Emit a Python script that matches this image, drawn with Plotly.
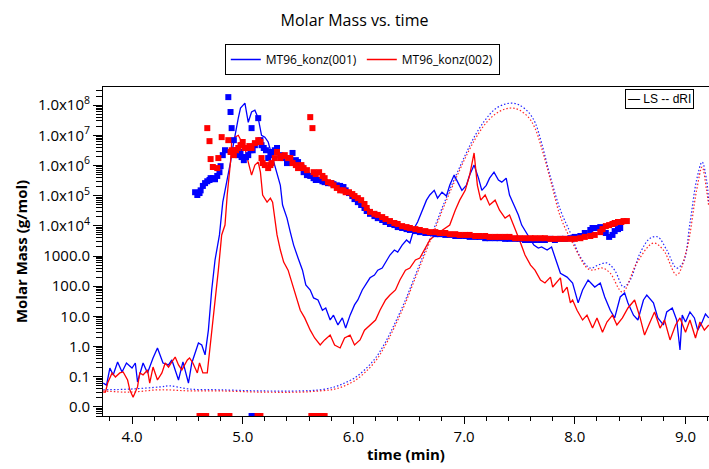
import plotly.graph_objects as go

# ---------------- data (time in min, values in g/mol display units) ----------------
t_ls_001 = [3.74,3.77,3.80,3.83,3.87,3.91,3.95,4.00,4.03,4.05,4.10,4.14,4.19,4.23,4.28,4.33,4.36,4.39,4.42,4.46,
            4.51,4.54,4.57,4.60,4.63,4.66,4.69,4.72,4.75,4.78,4.79,4.82,4.86,4.89,4.91,4.93,4.96,4.98,5.00,5.02,
            5.05,5.08,5.11,5.14,5.17,5.20,5.23,5.27,5.31,5.34,5.36,5.40,5.43,5.46,5.50,5.54,5.57,5.61,5.64,5.68,
            5.72,5.75,5.79,5.82,5.86,5.90,5.93,5.97,6.01,6.04,6.08,6.11,6.15,6.19,6.22,6.26,6.29,6.33,6.37,6.40,
            6.44,6.48,6.51,6.55,6.58,6.62,6.66,6.69,6.73,6.76,6.80,6.84,6.87,6.91,6.94,6.98,7.02,7.05,7.09,7.13,
            7.16,7.20,7.23,7.27,7.31,7.34,7.38,7.41,7.45,7.49,7.52,7.56,7.60,7.63,7.67,7.70,7.75,7.79,7.82,7.87,
            7.93,7.98,8.03,8.07,8.12,8.18,8.23,8.27,8.32,8.36,8.41,8.45,8.48,8.53,8.57,8.62,8.65,8.71,8.75,8.80,
            8.83,8.88,8.92,8.95,8.97,9.00,9.04,9.08,9.11,9.15,9.18,9.21]
ls_001 = [0.062,0.053,0.195,0.115,0.31,0.144,0.286,0.195,0.286,0.067,0.286,0.134,0.42,0.90,0.286,0.246,0.36,0.168,0.078,0.31,
          0.062,0.286,0.61,1.32,1.13,0.53,3.5,75,740,3400,5000,6.1e4,3.3e5,1.3e6,3.8e6,1.0e7,3.7e7,8.0e7,1.0e8,1.16e8,
          2.7e7,5.9e7,6.8e7,3.7e7,1.0e7,8.7e6,6.0e6,1.76e6,6.0e5,2.2e5,4.9e4,1.8e4,6200,2300,860,340,110,75,41,35,
          16,19,7.6,11,5.2,8.9,4.1,11,24,35,75,110,190,235,340,400,630,1080,1580,1360,
          2300,3400,2700,8500,1.34e4,3.3e4,7.1e4,1.05e5,1.5e5,8.3e4,1.3e5,9.7e4,2.2e5,4.8e5,2.8e5,1.5e5,2.2e5,4.8e5,1.03e6,3.8e5,
          1.5e5,2.2e5,3.8e5,6.0e5,3.3e5,2.8e5,3.8e5,1.05e5,4.9e4,2.3e4,1.06e4,6200,3400,2300,1840,2000,1580,2000,930,270,
          200,128,28,75,160,94,128,44,16,8.9,44,60,28,11,7.6,35,51,28,8.9,5.2,
          14,19,7.6,0.77,11,6.5,14,8.9,3.5,6.5,12,8.9]

t_ls_002 = [3.74,3.76,3.78,3.82,3.85,3.89,3.92,3.96,3.98,4.01,4.05,4.07,4.10,4.14,4.16,4.19,4.23,4.27,4.30,4.33,
            4.36,4.39,4.42,4.45,4.50,4.52,4.55,4.59,4.61,4.64,4.68,4.70,4.72,4.75,4.78,4.81,4.84,4.86,4.89,4.90,
            4.93,4.96,4.99,5.02,5.05,5.08,5.11,5.14,5.16,5.18,5.22,5.25,5.27,5.29,5.31,5.34,5.37,5.41,5.45,5.48,
            5.52,5.56,5.61,5.65,5.70,5.74,5.79,5.83,5.88,5.92,5.97,6.01,6.06,6.10,6.15,6.20,6.24,6.29,6.33,6.38,
            6.42,6.47,6.51,6.56,6.60,6.65,6.69,6.74,6.78,6.83,6.87,6.92,6.96,7.01,7.05,7.09,7.12,7.15,7.19,7.23,
            7.28,7.32,7.37,7.41,7.46,7.50,7.55,7.60,7.64,7.69,7.73,7.78,7.80,7.87,7.89,7.93,7.96,7.98,8.02,8.07,
            8.11,8.16,8.20,8.25,8.29,8.34,8.38,8.43,8.48,8.54,8.59,8.63,8.68,8.72,8.77,8.81,8.86,8.91,8.95,9.00,
            9.04,9.09,9.13,9.17,9.21]
ls_002 = [0.031,0.031,0.062,0.134,0.098,0.134,0.144,0.078,0.037,0.021,0.046,0.134,0.115,0.168,0.062,0.21,0.078,0.134,0.286,0.21,
          0.31,0.45,0.246,0.168,0.36,0.42,0.286,0.134,0.286,0.134,0.134,0.61,3.5,35,340,5000,1.06e4,1.05e5,1.3e6,6.0e6,
          8.7e6,1.0e7,6.0e6,3.8e6,1.3e6,4.8e5,1.03e6,1.3e6,6.0e5,1.05e5,6.1e4,8.3e4,6.1e4,1.8e4,5000,1580,630,340,110,51,
          16,8.9,3.5,1.93,1.13,1.66,2.4,1.13,0.90,1.93,2.4,1.13,1.66,3.5,5.2,7.6,16,35,51,75,
          160,340,400,740,860,1840,3400,5000,6200,8500,1.06e4,3.3e4,7.1e4,1.5e5,4.8e5,2.6e6,2.2e5,7.1e4,1.05e5,4.9e4,
          7.1e4,3.3e4,1.8e4,2.3e4,8500,3400,1080,500,340,160,128,200,94,190,60,94,28,35,16,7.6,
          11,4.1,8.9,3.0,6.5,11,5.2,8.9,19,35,8.9,2.4,6.5,14,4.1,7.6,1.66,5.2,8.9,3.0,
          7.6,1.93,6.5,3.5,5.2]

t_dri_001 = [3.74,3.98,4.25,4.34,4.52,4.79,5.16,5.52,5.70,5.83,5.92,6.01,6.10,6.20,6.29,6.38,6.47,6.56,6.65,6.74,
             6.83,6.92,7.01,7.10,7.19,7.28,7.37,7.44,7.50,7.58,7.64,7.70,7.78,7.87,7.96,8.05,8.14,8.21,8.29,8.36,
             8.44,8.50,8.59,8.68,8.75,8.83,8.92,8.98,9.04,9.10,9.15,9.19,9.21]
dri_001 = [0.037,0.039,0.046,0.050,0.039,0.037,0.034,0.034,0.037,0.046,0.062,0.091,0.168,0.42,1.42,6.5,35,235,1580,1.06e4,
           7.1e4,4.1e5,2.2e6,1.0e7,3.2e7,7.4e7,1.08e8,1.16e8,1.0e8,5.9e7,2.7e7,5.5e6,4.1e5,3.3e4,5800,930,400,500,590,340,
           94,160,1260,3900,4300,1580,400,630,1.24e4,3.3e5,1.3e6,3.3e5,5.7e4]

t_dri_002 = [3.74,3.98,4.25,4.52,4.79,5.16,5.52,5.70,5.83,5.92,6.01,6.10,6.20,6.29,6.38,6.47,6.56,6.65,6.74,6.83,
             6.92,7.01,7.10,7.19,7.28,7.37,7.44,7.50,7.58,7.64,7.70,7.78,7.87,7.98,8.11,8.16,8.25,8.32,8.43,8.56,
             8.71,8.80,8.92,9.01,9.10,9.15,9.19,9.21]
dri_002 = [0.034,0.031,0.037,0.034,0.034,0.031,0.031,0.034,0.039,0.050,0.073,0.134,0.33,1.13,5.2,28,190,1260,8500,5.7e4,
           3.3e5,1.76e6,7.5e6,2.35e7,5.0e7,7.4e7,8.0e7,6.8e7,4.0e7,1.73e7,3.8e6,3.3e5,2.0e4,2700,400,340,400,270,64,590,
           2700,1580,235,1580,1.5e5,8.9e5,1.5e5,4.2e4]

t_mm_001 = [4.57,4.59,4.61,4.62,4.64,4.66,4.68,4.70,4.71,4.73,4.75,4.77,4.79,4.80,4.82,4.84,4.87,4.89,4.90,4.92,
            4.94,4.96,4.98,4.99,5.01,5.03,5.05,5.07,5.08,5.09,5.11,5.14,5.16,5.17,5.19,5.21,5.23,5.25,5.26,5.29,
            5.31,5.34,5.36,5.40,5.43,5.45,5.48,5.50,5.53,5.55,5.58,5.61,5.64,5.66,5.69,5.72,5.74,5.77,5.80,5.82,
            5.85,5.88,5.91,5.93,5.96,5.99,6.01,6.04,6.07,6.10,6.12,6.15,6.19,6.22,6.26,6.29,6.33,6.37,6.40,6.44,
            6.48,6.51,6.56,6.60,6.65,6.69,6.74,6.78,6.83,6.87,6.92,6.96,7.01,7.05,7.10,7.14,7.19,7.23,7.28,7.32,
            7.37,7.41,7.46,7.50,7.55,7.60,7.64,7.69,7.73,7.78,7.82,7.87,7.91,7.96,8.00,8.05,8.09,8.14,8.16,8.19,
            8.23,8.25,8.28,8.31,8.34,8.36,8.39,8.41]
mm_001 = [1.3e5,1.05e5,1.22e5,1.5e5,2.1e5,2.6e5,3.0e5,3.3e5,3.8e5,3.8e5,3.5e5,4.5e5,6.0e5,9.5e5,2.2e6,3.2e6,1.84e8,5.9e7,1.73e7,6.9e6,
          3.2e6,2.2e6,2.8e6,1.9e6,1.5e6,1.9e6,2.2e6,3.2e6,1.73e7,3.2e6,4.7e6,3.7e7,6.9e6,4.7e6,3.8e6,3.2e6,1.76e6,2.2e6,2.8e6,3.2e6,
          3.8e6,2.2e6,1.76e6,1.2e6,1.5e6,2.6e6,1.5e6,1.3e6,8.9e5,6.0e5,4.8e5,4.5e5,3.8e5,3.3e5,3.3e5,3.0e5,2.8e5,2.6e5,2.6e5,2.4e5,
          2.2e5,2.1e5,1.93e5,1.5e5,1.22e5,9.7e4,7.7e4,6.1e4,4.9e4,3.9e4,3.1e4,2.5e4,2.1e4,1.8e4,1.56e4,1.34e4,1.15e4,1.06e4,9100,8500,
          7800,7300,6700,6200,5800,5800,5300,5300,5000,5000,4600,4600,4600,4300,4300,4300,3900,3900,3900,3900,
          3700,3700,3700,3700,3400,3400,3400,3400,3400,3700,3400,3700,3700,3900,4300,4600,5800,7300,8500,8500,
          9100,7800,5800,4300,5000,6700,7800,8500]

t_mm_002 = [4.68,4.70,4.71,4.73,4.77,4.78,4.81,4.87,4.89,4.90,4.92,4.94,4.96,4.98,4.99,5.00,5.02,5.04,5.06,5.08,
            5.11,5.14,5.16,5.17,5.18,5.20,5.23,5.25,5.26,5.29,5.31,5.34,5.36,5.38,5.41,5.43,5.45,5.48,5.50,5.53,
            5.55,5.58,5.61,5.63,5.64,5.66,5.69,5.72,5.74,5.77,5.80,5.82,5.85,5.88,5.91,5.93,5.96,5.99,6.01,6.04,
            6.07,6.10,6.12,6.15,6.19,6.22,6.26,6.29,6.33,6.37,6.40,6.44,6.48,6.51,6.56,6.60,6.65,6.69,6.74,6.78,
            6.83,6.87,6.92,6.96,7.01,7.05,7.10,7.14,7.19,7.23,7.28,7.32,7.37,7.41,7.46,7.50,7.55,7.60,7.64,7.69,
            7.73,7.78,7.82,7.87,7.91,7.96,8.00,8.05,8.09,8.14,8.18,8.23,8.25,8.28,8.31,8.34,8.36,8.39,8.42,8.44,
            8.47]
mm_002 = [1.73e7,6.4e6,1.63e6,8.9e5,8.2e5,1.76e6,8.7e6,6.9e6,2.8e6,3.2e6,2.2e6,3.2e6,3.8e6,4.7e6,4.7e6,6.0e6,3.8e6,3.8e6,4.4e6,3.8e6,
          5.5e6,6.9e6,6.0e6,1.76e6,1.2e6,1.03e6,8.2e5,1.03e6,1.2e6,1.76e6,2.8e6,1.76e6,2.05e6,2.2e6,1.76e6,1.76e6,1.2e6,1.03e6,8.2e5,1.03e6,
          8.2e5,7.0e5,4.0e7,1.73e7,6.0e5,5.2e5,6.0e5,4.5e5,3.8e5,2.8e5,2.6e5,2.2e5,1.8e5,1.5e5,1.5e5,1.3e5,1.3e5,1.13e5,9.7e4,8.3e4,
          7.1e4,5.3e4,3.9e4,2.9e4,2.5e4,2.3e4,1.95e4,1.68e4,1.44e4,1.24e4,1.15e4,9800,9100,8500,7800,7300,6700,6200,6200,5800,
          5800,5300,5300,5000,5000,5000,4600,4600,4600,4300,4300,4300,4300,4300,3900,3900,3900,3900,3900,3900,
          3900,3700,3700,3700,3700,3700,3700,3900,4300,4600,5000,6200,7800,9800,1.06e4,1.15e4,1.24e4,1.34e4,1.34e4,1.44e4,
          1.44e4]

# points whose molar mass lies below the axis range (shown on the bottom edge)
t_low_001 = [5.08]
t_low_002 = [4.61,4.63,4.65,4.67,4.80,4.82,4.84,4.86,4.88,5.10,5.12,5.14,5.16,5.62,5.64,5.66,5.68,5.70,5.72,5.74]
low_value = 0.005

y_tickvals = [1e-2,1e-1,1,10,100,1000,1e4,1e5,1e6,1e7,1e8]
y_ticktext = ["0.0","0.1","1.0","10.0","100.0","1000.0",
              "1.0x10<sup>4</sup>","1.0x10<sup>5</sup>","1.0x10<sup>6</sup>","1.0x10<sup>7</sup>","1.0x10<sup>8</sup>"]
y_minor_vals = [m * 10.0**e for e in range(-3, 9) for m in range(2, 10)]
x_minor_vals = [round(3.6 + 0.2 * i, 1) for i in range(30) if (i % 5) != 2]

BLUE = "#0000ff"
RED = "#ff0000"
FONT = "Open Sans"

fig = go.Figure()
fig.add_trace(go.Scatter(x=t_dri_001, y=dri_001, mode="lines",
                         line=dict(color=BLUE, width=1.2, dash="1.5px,2px", shape="spline"),
                         showlegend=False, opacity=0.85))
fig.add_trace(go.Scatter(x=t_dri_002, y=dri_002, mode="lines",
                         line=dict(color=RED, width=1.2, dash="1.5px,2px", shape="spline"),
                         showlegend=False, opacity=0.85))
fig.add_trace(go.Scatter(x=t_ls_001, y=ls_001, mode="lines", line=dict(color=BLUE, width=1.3),
                         name="MT96_konz(001)"))
fig.add_trace(go.Scatter(x=t_ls_002, y=ls_002, mode="lines", line=dict(color=RED, width=1.3),
                         name="MT96_konz(002)"))
fig.add_trace(go.Scatter(x=t_mm_001, y=mm_001, mode="markers", marker=dict(color=BLUE, size=6, symbol="square"),
                         showlegend=False))
fig.add_trace(go.Scatter(x=t_mm_002, y=mm_002, mode="markers", marker=dict(color=RED, size=6, symbol="square"),
                         showlegend=False))
# below-range points; drawn on overlay axes (same scales) that carry the minor ticks
fig.add_trace(go.Scatter(x=t_low_001, y=[low_value]*len(t_low_001), mode="markers", xaxis="x2", yaxis="y",
                         marker=dict(color=BLUE, size=6, symbol="square"), showlegend=False))
fig.add_trace(go.Scatter(x=t_low_002, y=[low_value]*len(t_low_002), mode="markers", xaxis="x", yaxis="y2",
                         marker=dict(color=RED, size=6, symbol="square"), showlegend=False))

fig.update_layout(
    width=709, height=469,
    margin=dict(l=103, r=0, t=87, b=53),
    paper_bgcolor="white", plot_bgcolor="white",
    font=dict(family=FONT, color="black", size=14),
    title=dict(text="Molar Mass vs. time", x=0.5, xref="container", xanchor="center",
               y=1 - 20/469, yref="container", yanchor="middle", font=dict(size=16, family=FONT)),
    legend=dict(orientation="h", xref="container", x=0.511, xanchor="center",
                yref="container", y=1 - 44/469, yanchor="top",
                bordercolor="black", borderwidth=1, font=dict(size=12, family=FONT),
                itemwidth=30, bgcolor="white"),
    showlegend=True,
    xaxis=dict(
        range=[3.738, 9.212], showgrid=False, zeroline=False,
        showline=True, linecolor="black", linewidth=1, mirror=True,
        ticks="outside", ticklen=7, tickcolor="black", dtick=1, tick0=0, tickformat=".1f",
        tickfont=dict(size=15),
        title=dict(text="<b>time (min)</b>", font=dict(size=15), standoff=4),
    ),
    xaxis2=dict(range=[3.738, 9.212], overlaying="x", side="bottom", anchor="y",
                tickmode="array", tickvals=x_minor_vals, ticks="outside", ticklen=4,
                tickcolor="black", showticklabels=False, showline=False, showgrid=False,
                zeroline=False),
    yaxis=dict(
        type="log", range=[-2.3, 8.6], showgrid=False, zeroline=False,
        showline=True, linecolor="black", linewidth=1,
        ticks="outside", ticklen=9, tickcolor="black",
        tickmode="array", tickvals=y_tickvals, ticktext=y_ticktext,
        tickfont=dict(size=15),
        title=dict(text="<b>Molar Mass (g/mol)</b>", font=dict(size=15), standoff=6),
    ),
    yaxis2=dict(type="log", range=[-2.3, 8.6], overlaying="y", side="left", anchor="x",
                tickmode="array", tickvals=y_minor_vals, ticks="outside", ticklen=6,
                tickcolor="black", showticklabels=False, showline=False, showgrid=False,
                zeroline=False),
)

fig.add_annotation(
    xref="paper", yref="paper", x=(625-103)/606, y=0.994, xanchor="left", yanchor="top",
    text="— LS -- dRI", showarrow=False, font=dict(family="Liberation Sans", size=12, color="black"),
    bordercolor="black", borderwidth=1, borderpad=2, bgcolor="white", align="left",
)

fig.write_html("out.html")
